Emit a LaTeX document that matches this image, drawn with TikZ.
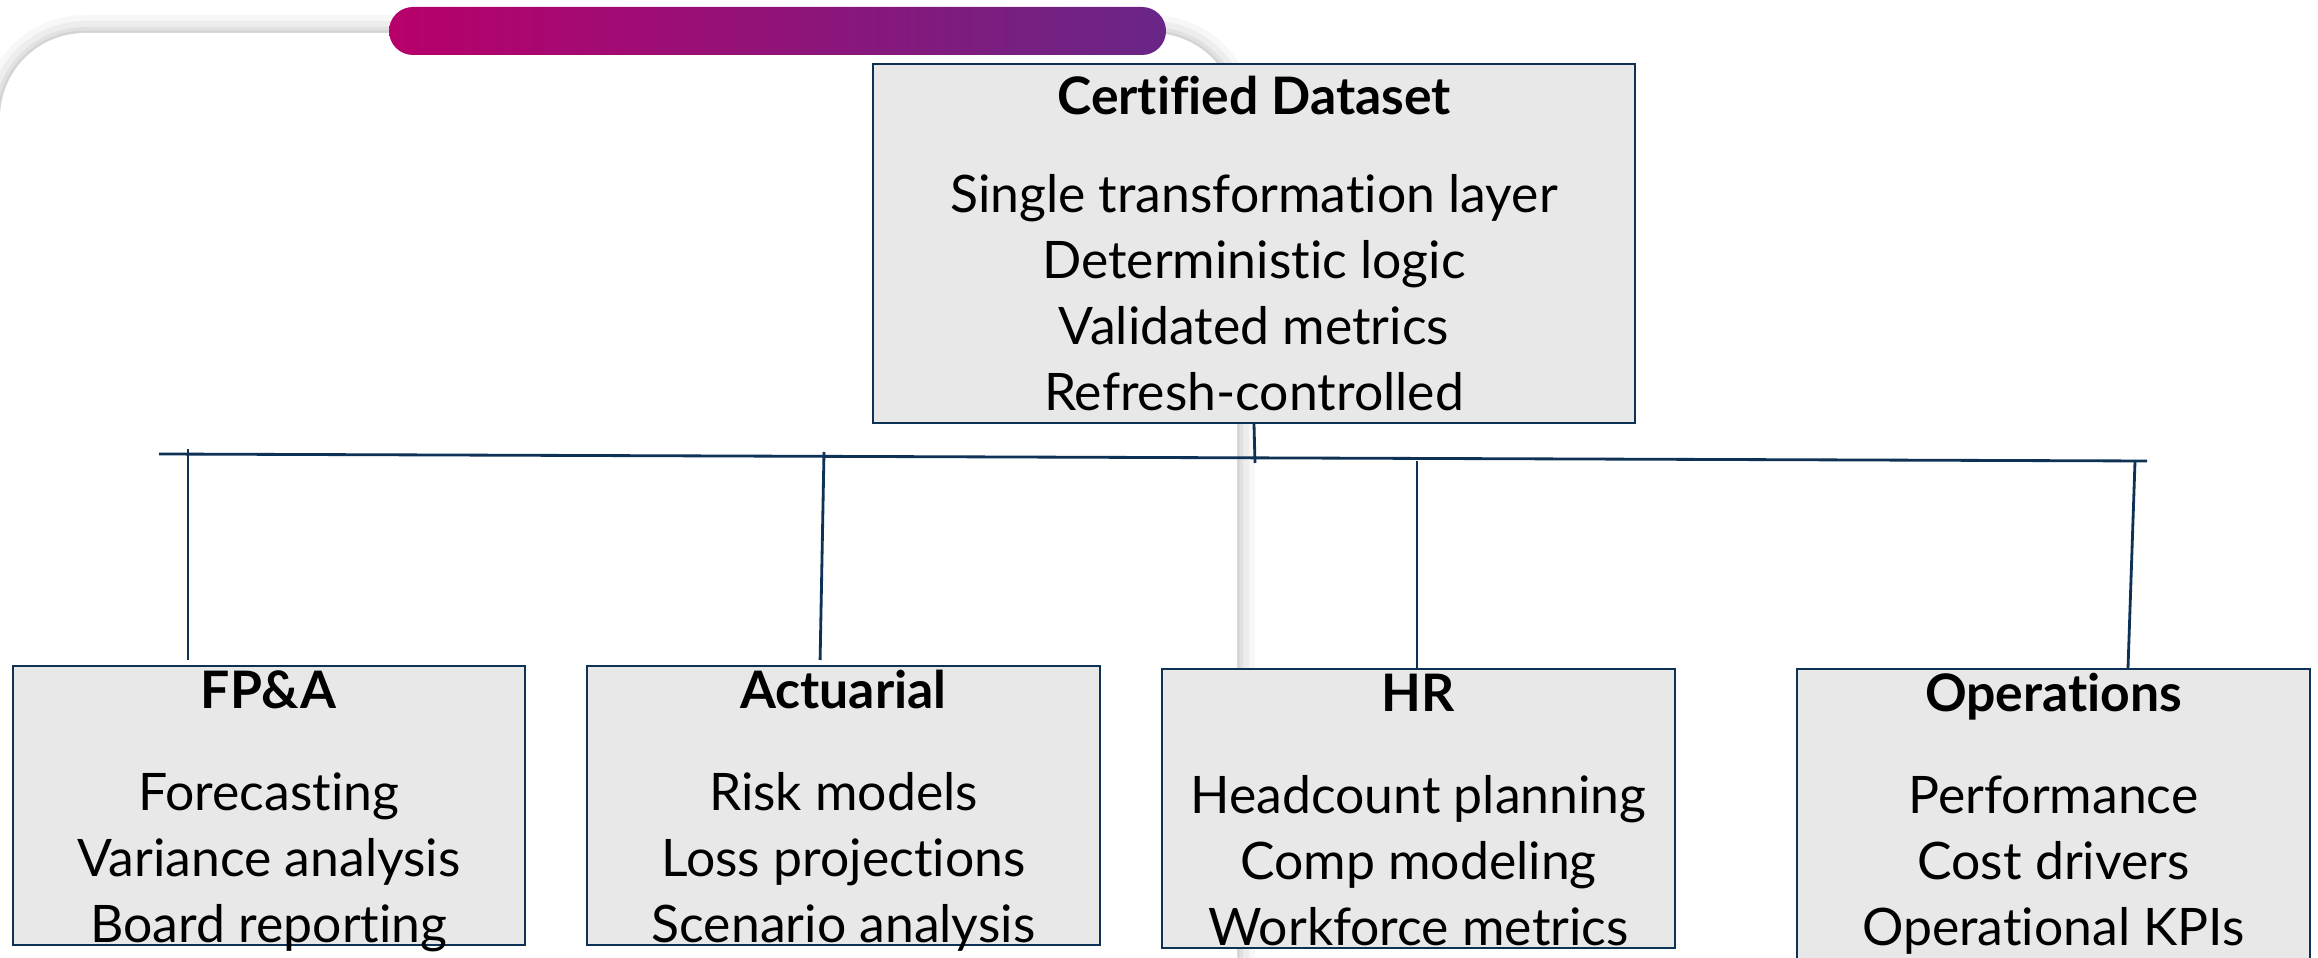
\documentclass[tikz,border=0pt]{standalone}
\usepackage{fontspec}
\setmainfont{Lato}[Ligatures=NoCommon]
\usetikzlibrary{positioning,calc}
\definecolor{navy}{HTML}{0D3255}
\definecolor{boxgray}{HTML}{E8E8E8}
\definecolor{barpink}{HTML}{B8006B}
\definecolor{barpurple}{HTML}{692687}
% heading and last line of a department box
\newcommand\deptHead[1]{\raisebox{0pt}[12.2pt][\depth]{\textbf{#1}}}
\newcommand\deptLast[2][0.8pt]{\raisebox{0pt}[\height][#1]{#2}}
\tikzset{
  box/.style={draw=navy, line width=0.6pt, fill=boxgray, align=center, inner sep=0pt,
    font=\fontsize{14.7}{18.8}\selectfont},
  dept/.style={minimum width=5.12cm, anchor=north},
  link/.style={draw=navy, line width=0.8pt},
}
\begin{document}
\begin{tikzpicture}[x=0.01cm, y=-0.01cm]
  \useasboundingbox (0,0) rectangle (2318,958);
  % card behind the chart
  \foreach \w/\o in {0.36/0.03, 0.24/0.04, 0.12/0.05, 0.05/0.06}
    \draw[black, opacity=\o, line width=\w cm, rounded corners=0.85cm]
      (0,1100) -- (0,33) -- (1237,33) -- (1237,1100);
  \fill[white, rounded corners=0.85cm]
    (0,1100) -- (0,33) -- (1237,33) -- (1237,1100) -- cycle;
  \shade[left color=barpink, right color=barpurple, rounded corners=0.24cm]
    (389,7) rectangle (1166,55);

  % boxes
  \node[box, minimum width=7.62cm, minimum height=3.59cm] (data) at (1254,243.5)
    {\textbf{Certified Dataset}\\[9pt] Single transformation layer\\ Deterministic logic\\
     Validated metrics\\ Refresh-controlled};
  \node[box, dept] (fpa) at (269,665)
    {\deptHead{FP\&A}\\[10pt] Forecasting\\ Variance analysis\\ \deptLast{Board reporting}};
  \node[box, dept] (act) at (843.5,665)
    {\deptHead{Actuarial}\\[10pt] Risk models\\ Loss projections\\ \deptLast{Scenario analysis}};
  \node[box, dept] (hr) at (1418.5,668)
    {\deptHead{HR}\\[10pt] Headcount planning\\ Comp modeling\\ \deptLast{Workforce metrics}};
  \node[box, dept] (ops) at (2053.5,668)
    {\deptHead{Operations}\\[10pt] Performance\\ Cost drivers\\ \deptLast[60pt]{Operational KPIs}};

  % bus and taps
  \coordinate (busW) at (159,454);
  \coordinate (busE) at (2147,461);
  \coordinate (tie) at (1255,463);
  \coordinate (tapF) at (188,449);
  \coordinate (tapA) at (824,452);
  \coordinate (tapH) at (1417,461);
  \coordinate (tapO) at (2135,461);
  \draw[link] (busW) -- (busE);
  \draw[link] (data.south) -- (tie);
  \draw[link, shorten >=0.05cm] (tapF) -- (tapF |- fpa.north);
  \draw[link, shorten >=0.05cm] (tapA) -- ($(tapA |- act.north)+(-4,0)$);
  \draw[link] (tapH) -- (tapH |- hr.north);
  \draw[link] (tapO) -- ($(tapO |- ops.north)+(-7,0)$);
\end{tikzpicture}
\end{document}
